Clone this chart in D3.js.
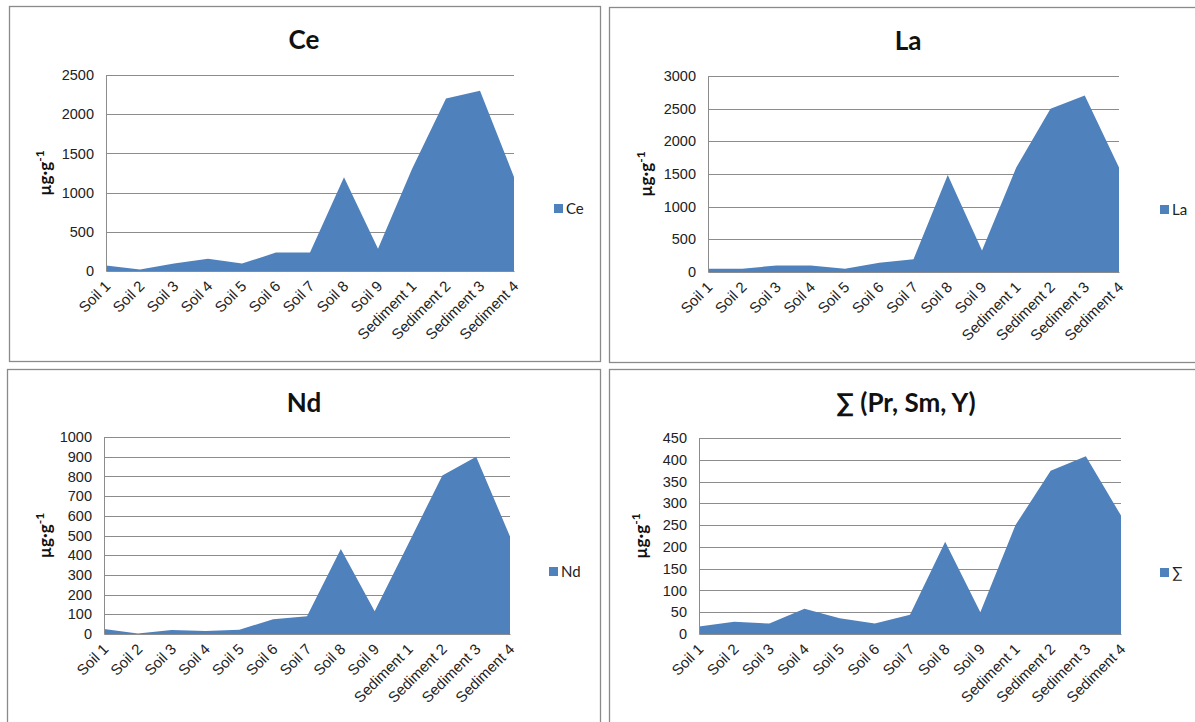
<!DOCTYPE html>
<html>
<head>
<meta charset="utf-8">
<script src="https://cdn.jsdelivr.net/npm/d3@7"></script>
<style>
  html, body { margin: 0; padding: 0; background: #ffffff; }
  svg { display: block; font-family: Lato, "Open Sans", sans-serif; }
</style>
</head>
<body>
<svg id="chart" width="1195" height="722"></svg>
<script>
// Sample names along the category axis
const categories = ["Soil 1", "Soil 2", "Soil 3", "Soil 4", "Soil 5", "Soil 6", "Soil 7",
  "Soil 8", "Soil 9", "Sediment 1", "Sediment 2", "Sediment 3", "Sediment 4"];

// Concentrations in µg·g⁻¹ per sample
const ceValues  = [70, 18, 95, 155, 95, 235, 235, 1195, 285, 1300, 2200, 2300, 1200];
const laValues  = [50, 50, 100, 100, 50, 140, 195, 1485, 330, 1600, 2500, 2700, 1600];
const ndValues  = [25, 3, 20, 15, 22, 75, 90, 432, 115, 460, 805, 900, 495];
const sumValues = [17, 28, 24, 58, 36, 24, 44, 212, 50, 250, 375, 408, 272];

// Value-axis tick labels for each chart
const ceTicks  = [0, 500, 1000, 1500, 2000, 2500];
const laTicks  = [0, 500, 1000, 1500, 2000, 2500, 3000];
const ndTicks  = [0, 100, 200, 300, 400, 500, 600, 700, 800, 900, 1000];
const sumTicks = [0, 50, 100, 150, 200, 250, 300, 350, 400, 450];

const titles = ["Ce", "La", "Nd", "\u2211 (Pr, Sm, Y)"];
const legendNames = ["Ce", "La", "Nd", "\u2211"];

const FILL = "#4F81BD";
const GRID = "#8c8c8c";
const FRAME = "#8a8a8a";

// Layout of the four chart boxes
const layouts = [
  { box: [9, 6, 600, 361],    plot: [106, 75, 514, 271],   titleX: 304, titleY: 49,  axisTitleX: 45,  legendX: 554,  legendY: 209 },
  { box: [609, 7, 1199, 362], plot: [708, 76, 1119, 272],  titleX: 908, titleY: 50,  axisTitleX: 646, legendX: 1160, legendY: 210 },
  { box: [7, 369, 600, 730],  plot: [104, 437, 510, 634],  titleX: 304, titleY: 412, axisTitleX: 45,  legendX: 549,  legendY: 572 },
  { box: [609, 369, 1199, 730], plot: [699, 438, 1121, 634], titleX: 906, titleY: 412, axisTitleX: 641, legendX: 1160, legendY: 573 }
];

const seriesList = [ceValues, laValues, ndValues, sumValues];
const tickList = [ceTicks, laTicks, ndTicks, sumTicks];

const svg = d3.select("#chart");

seriesList.forEach((values, i) => {
  const L = layouts[i];
  const ticks = tickList[i];
  const g = svg.append("g");

  // outer frame
  g.append("rect")
    .attr("x", L.box[0] + 0.5).attr("y", L.box[1] + 0.5)
    .attr("width", L.box[2] - L.box[0]).attr("height", L.box[3] - L.box[1])
    .attr("fill", "#fff").attr("stroke", FRAME).attr("stroke-width", 1.3);

  const x = d3.scalePoint().domain(categories).range([L.plot[0], L.plot[2]]);
  const y = d3.scaleLinear().domain([0, d3.max(ticks)]).range([L.plot[3], L.plot[1]]);

  // horizontal gridlines
  g.append("g").selectAll("line").data(ticks.filter(t => t > 0)).join("line")
    .attr("x1", L.plot[0]).attr("x2", L.plot[2])
    .attr("y1", d => Math.round(y(d)) + 0.5).attr("y2", d => Math.round(y(d)) + 0.5)
    .attr("stroke", GRID).attr("stroke-width", 1);

  // filled area series
  const area = d3.area()
    .x((d, k) => x(categories[k]))
    .y0(y(0))
    .y1(d => y(d));
  g.append("path").datum(values).attr("d", area).attr("fill", FILL);

  // value axis
  const yAxis = d3.axisLeft(y).tickValues(ticks).tickSize(0).tickPadding(12).tickFormat(d3.format("d"));
  const ya = g.append("g").attr("transform", `translate(${L.plot[0]},0)`).call(yAxis);
  ya.select(".domain").attr("stroke", GRID);
  ya.selectAll("text").attr("font-size", 14.5).attr("fill", "#222");

  // category axis
  const xAxis = d3.axisBottom(x).tickSize(0).tickFormat(d => d);
  const xa = g.append("g").attr("transform", `translate(0,${L.plot[3]})`).call(xAxis);
  xa.select(".domain").attr("stroke", GRID);
  xa.selectAll("text")
    .attr("font-size", 15).attr("fill", "#222")
    .attr("text-anchor", "end")
    .attr("dy", null)
    .attr("y", 0)
    .attr("transform", "translate(5,16) rotate(-45)");

  // chart title
  g.append("text")
    .attr("x", L.titleX).attr("y", L.titleY)
    .attr("text-anchor", "middle")
    .attr("font-size", 26).attr("font-weight", "bold").attr("fill", "#111")
    .text(titles[i]);

  // value-axis title: µg·g⁻¹
  const midY = (L.plot[1] + L.plot[3]) / 2;
  const at = g.append("text")
    .attr("transform", `translate(${L.axisTitleX + 6},${midY}) rotate(-90)`)
    .attr("text-anchor", "middle")
    .attr("font-size", 17).attr("font-weight", "bold").attr("fill", "#111");
  at.append("tspan").text("\u00b5g\u00b7g");
  at.append("tspan").attr("dy", -7).attr("font-size", 12).text("-1");

  // legend
  g.append("rect")
    .attr("x", L.legendX).attr("y", L.legendY - 5)
    .attr("width", 9).attr("height", 9).attr("fill", FILL);
  g.append("text")
    .attr("x", L.legendX + 12).attr("y", L.legendY + 5)
    .attr("font-size", 15).attr("fill", "#222")
    .text(legendNames[i]);
});
</script>
</body>
</html>
